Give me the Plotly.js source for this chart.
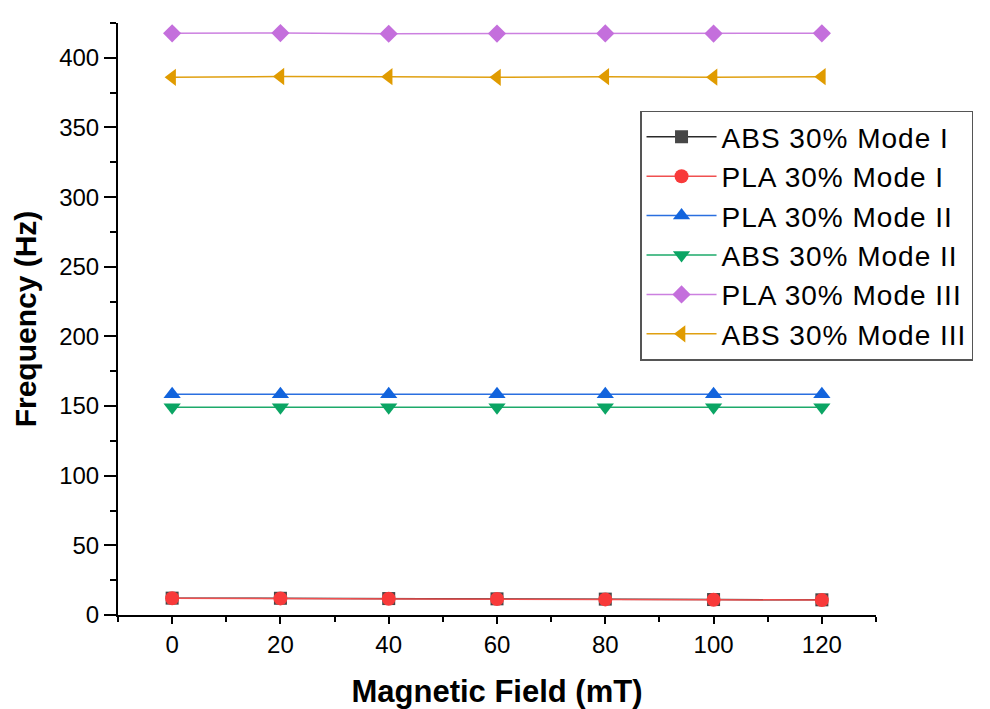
<!DOCTYPE html>
<html>
<head>
<meta charset="utf-8">
<script src="https://cdn.plot.ly/plotly-3.0.1.min.js"></script>
<style>
html,body{margin:0;padding:0;background:#fff;}
#chart{width:990px;height:709px;}
.legendtext{letter-spacing:1px;}
</style>
</head>
<body>
<div id="chart"></div>
<script>
const field = [0, 20, 40, 60, 80, 100, 120];
const absModeI = [12.1, 12.0, 11.8, 11.6, 11.4, 11.1, 10.9];
const plaModeI = [12.0, 11.9, 11.7, 11.5, 11.2, 11.0, 10.7];
const plaModeII = [158.5, 158.5, 158.5, 158.4, 158.5, 158.4, 158.5];
const absModeII = [149.2, 149.2, 149.1, 149.2, 149.1, 149.2, 149.2];
const plaModeIII = [417.6, 417.8, 417.3, 417.4, 417.5, 417.4, 417.6];
const absModeIII = [386.0, 386.6, 386.5, 386.0, 386.5, 386.1, 386.5];

const seriesNames = ["ABS 30% Mode I", "PLA 30% Mode I", "PLA 30% Mode II", "ABS 30% Mode II", "PLA 30% Mode III", "ABS 30% Mode III"];
const seriesData = [absModeI, plaModeI, plaModeII, absModeII, plaModeIII, absModeIII];
const markerColors = ["#474747", "#F83A3A", "#1264DD", "#0BA564", "#C46FDC", "#E09B00"];
const lineColors = ["#2a2a2a", "#F05050", "#2A6FE0", "#1DAA6A", "#CC80E0", "#E0A010"];
const symbols = ["square", "circle", "triangle-up", "triangle-down", "diamond", "triangle-left"];
const sizes = [13, 14, 15, 15, 14, 15];

const traces = seriesNames.map((name, i) => ({
  x: field,
  y: seriesData[i],
  name: name,
  type: "scatter",
  mode: "lines+markers",
  line: {color: lineColors[i], width: 1.5},
  marker: {symbol: symbols[i], size: sizes[i], color: markerColors[i], line: {width: 0}}
}));

const font = "Liberation Sans, Arial, sans-serif";
const layout = {
  width: 990, height: 709,
  paper_bgcolor: "#fff", plot_bgcolor: "#fff",
  margin: {l: 118, r: 114, t: 23, b: 94, autoexpand: false},
  font: {family: font, color: "#000"},
  showlegend: true,
  legend: {
    x: 0.6887, y: 0.852, xanchor: "left", yanchor: "top",
    bgcolor: "#fff", bordercolor: "#555", borderwidth: 1.5,
    font: {family: font, size: 28, color: "#000"},
    itemwidth: 70, tracegroupgap: 0
  },
  xaxis: {
    range: [-10, 130], dtick: 20, tick0: 0,
    showgrid: false, zeroline: false,
    showline: true, linecolor: "#000", linewidth: 2,
    ticks: "outside", ticklen: 7, tickwidth: 2, tickcolor: "#000",
    minor: {dtick: 10, ticks: "outside", ticklen: 5, tickwidth: 2, tickcolor: "#000", showgrid: false},
    tickfont: {family: font, size: 24, color: "#000"},
    title: {text: "Magnetic Field (mT)", font: {family: font, size: 31, color: "#000", weight: 700}, standoff: 33}
  },
  yaxis: {
    range: [0, 425], dtick: 50, tick0: 0,
    showgrid: false, zeroline: false,
    showline: true, linecolor: "#000", linewidth: 2,
    ticks: "outside", ticklen: 12, tickwidth: 2, tickcolor: "#000",
    minor: {dtick: 25, ticks: "outside", ticklen: 6, tickwidth: 2, tickcolor: "#000", showgrid: false},
    tickfont: {family: font, size: 24, color: "#000"},
    title: {text: "Frequency (Hz)", font: {family: font, size: 30, color: "#000", weight: 700}, standoff: 14}
  }
};

Plotly.newPlot("chart", traces, layout, {displayModeBar: false, staticPlot: true});
</script>
</body>
</html>
